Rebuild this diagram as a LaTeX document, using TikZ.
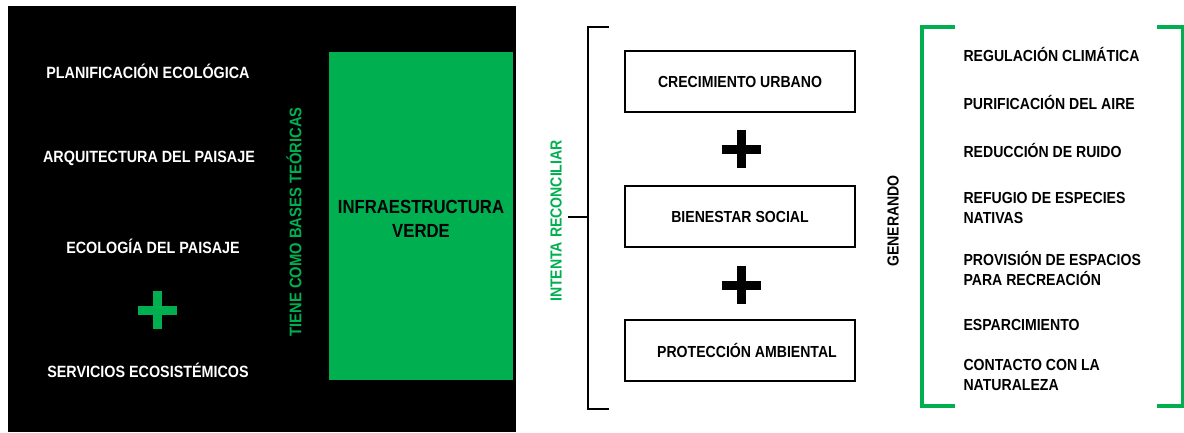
\documentclass[tikz,border=0pt]{standalone}
\usepackage{fontspec}
\setmainfont[FakeStretch=0.88]{Liberation Sans}
\usetikzlibrary{positioning}

\definecolor{verde}{HTML}{00B050}

\tikzset{
  basetxt/.style={text=white, font=\bfseries\fontsize{16.3}{18}\selectfont},
  reltxt/.style={text=verde, font=\bfseries\fontsize{16}{18}\selectfont, rotate=90},
  caja/.style={draw=black, line width=2pt, minimum width=230pt, minimum height=61pt,
    font=\bfseries\fontsize{16}{18}\selectfont},
  servtxt/.style={anchor=west, align=left, font=\bfseries\fontsize{16}{20}\selectfont},
  mas/.style={line width=9pt}
}

\begin{document}
\begin{tikzpicture}[x=1pt,y=-1pt]
\useasboundingbox (0,0) rectangle (1184,432);

% fondo negro
\fill[black] (8,6) rectangle (516,432);
\fill[verde] (329,52) rectangle (513,380);
\node[align=center, font=\bfseries\fontsize{19}{24}\selectfont] (iv) at (421,219) {INFRAESTRUCTURA\\VERDE};

\node[basetxt] (plan) at (148,71) {PLANIFICACIÓN ECOLÓGICA};
\node[basetxt] (arq) at (149,158) {ARQUITECTURA DEL PAISAJE};
\node[basetxt] (eco) at (153,246) {ECOLOGÍA DEL PAISAJE};
\node[basetxt] (serv) at (148,370) {SERVICIOS ECOSISTÉMICOS};
\draw[mas, verde] (138,310) -- (177,310) (157.5,291) -- (157.5,329);

\node[reltxt, font=\bfseries\fontsize{16.8}{18}\selectfont] (bases) at (294,222) {TIENE COMO BASES TEÓRICAS};

% corchete negro
\coordinate (c1) at (609,27);
\coordinate (c2) at (588,27);
\coordinate (c3) at (588,409);
\coordinate (c4) at (609,409);
\coordinate (cm) at (588,217);
\coordinate (cl) at (568,217);
\draw[line width=1.2pt] (c1) -- (c2) -- (c3) -- (c4);
\draw[line width=1.2pt] (cl) -- (cm);
\node[reltxt] (intenta) at (556,221) {INTENTA RECONCILIAR};

\node[caja] (crec) at (740,81.5) {CRECIMIENTO URBANO};
\node[caja] (bien) at (740,216.5) {BIENESTAR SOCIAL};
\node[caja] (prot) at (740,350.5) {\hspace{14pt}PROTECCIÓN AMBIENTAL};
\draw[mas] (722,149) -- (761,149) (741.5,130) -- (741.5,168);
\draw[mas] (722,285) -- (761,285) (741.5,266) -- (741.5,304);

\node[rotate=90, font=\bfseries\fontsize{16}{18}\selectfont] (gen) at (893,221) {GENERANDO};

% corchetes verdes
\draw[verde, line width=4pt] (955,27) -- (922,27) -- (922,406) -- (955,406);
\draw[verde, line width=4pt] (1157,27) -- (1183,27) -- (1183,406) -- (1157,406);

\node[servtxt] (s1) at (960,54) {REGULACIÓN CLIMÁTICA};
\node[servtxt] (s2) at (960,102) {PURIFICACIÓN DEL AIRE};
\node[servtxt] (s3) at (960,150) {REDUCCIÓN DE RUIDO};
\node[servtxt] (s4) at (960,208) {REFUGIO DE ESPECIES\\NATIVAS};
\node[servtxt] (s5) at (960,268) {PROVISIÓN DE ESPACIOS\\PARA RECREACIÓN};
\node[servtxt] (s6) at (960,325) {ESPARCIMIENTO};
\node[servtxt] (s7) at (960,375) {CONTACTO CON LA\\NATURALEZA};
\end{tikzpicture}
\end{document}
